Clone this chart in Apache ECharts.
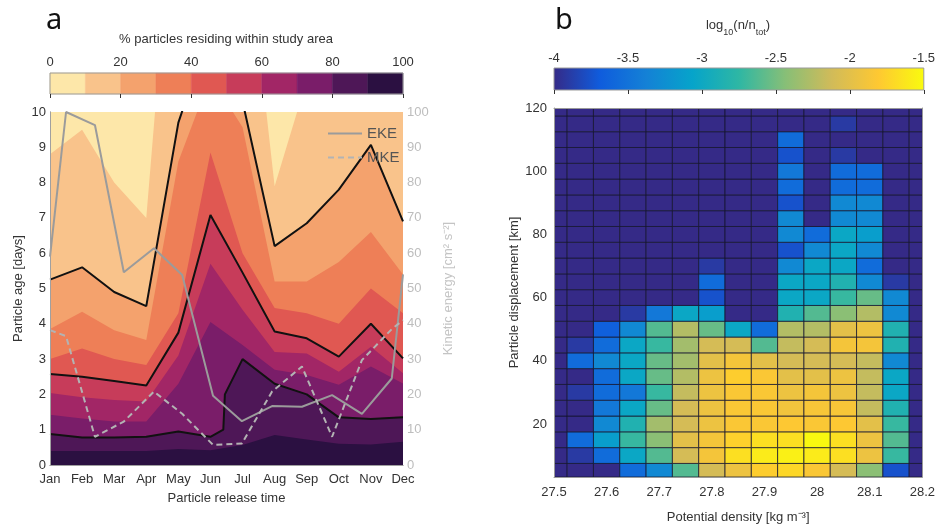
<!DOCTYPE html>
<html><head><meta charset="utf-8">
<script src="https://cdn.jsdelivr.net/npm/echarts@6/dist/echarts.min.js"></script>
<style>html,body{margin:0;padding:0;background:#fff}#c{width:938px;height:529px}</style>
</head><body><div id="c"></div>
<script>
// ---------- Panel a data ----------
const months = ['Jan','Feb','Mar','Apr','May','Jun','Jul','Aug','Sep','Oct','Nov','Dec'];
const pctLevels = [0,10,20,30,40,50,60,70,80,90,100];
const pctColors = ['#fde7a9','#f9c38b','#f4a26d','#ee7f57','#e05852','#c73c5a','#a22666','#7a1d69','#4e1757','#2b1041'];
const ageMax = 10;
// particle age (days) at which the % residing equals 10,20,...,90 for each release month
const age10 = [8.8, 9.5, 8.0, 7.0, 18, 16, 16, 7.9, 10.9, 12, 12, 12];
const age20 = [5.25, 5.6, 4.9, 4.5, 9.7, 12.4, 10.3, 6.2, 6.85, 7.8, 9.07, 6.9];
const age30 = [3.85, 4.34, 3.82, 3.54, 8.6, 11, 9.57, 5.2, 5.2, 5.75, 6.6, 5.4];
const age40 = [3.0, 3.3, 3.0, 2.83, 4.3, 8.85, 6.0, 4.45, 4.3, 4.0, 5.0, 4.3];
const age50 = [2.58, 2.5, 2.38, 2.25, 3.75, 7.08, 5.45, 3.78, 3.59, 3.07, 4.0, 3.02];
const age60 = [2.04, 1.92, 1.84, 1.8, 3.1, 5.7, 4.4, 3.2, 3.16, 2.64, 3.35, 2.6];
const age70 = [1.42, 1.32, 1.23, 1.23, 2.3, 4.05, 3.4, 2.7, 2.55, 2.27, 2.79, 2.31];
const age80 = [0.88, 0.78, 0.78, 0.8, 0.95, 0.8, 3.0, 2.3, 2.0, 1.35, 1.3, 1.35];
const age80Extra = [[5.4, 1.0], [5.45, 2.0]];
const age90 = [0.4, 0.4, 0.4, 0.4, 0.45, 0.42, 0.57, 0.85, 0.72, 0.6, 0.58, 0.66];
const contourLevels = [20, 50, 80];
// kinetic energy (cm2 s-2)
const keTimes = [0, 0.5, 1.4, 2.3, 3.24, 4.12, 5.08, 5.98, 6.92, 7.85, 8.79, 9.72, 10.65, 11];
const ekeValues = [59, 100, 96.3, 54.6, 61.4, 53.8, 19.6, 12.4, 16.7, 16.5, 19.8, 14.5, 24.5, 54];
const mkeValues = [38.2, 36.5, 8.0, 12.3, 20.8, 14.5, 5.7, 6.1, 20.8, 27.9, 8.0, 29.7, 38.5, 41];

// ---------- Panel b data ----------
const densityX = [27.5,27.55,27.6,27.65,27.7,27.75,27.8,27.85,27.9,27.95,28.0,28.05,28.1,28.15,28.2];
const densityY = [5,10,15,20,25,30,35,40,45,50,55,60,65,70,75,80,85,90,95,100,105,110,115,120];
const N = -4;
const densityRows = [
 [N,N,N,-3.55,-3.3,-2.62,-2.1,-1.93,-1.78,-1.72,-1.84,-2.1,-2.42,-3.75,N],
 [N,-3.9,-3.55,-3.02,-2.62,-2.1,-1.88,-1.67,-1.6,-1.57,-1.6,-1.67,-1.93,-2.72,N],
 [N,-3.55,-3.12,-2.72,-2.42,-2.0,-1.88,-1.76,-1.67,-1.67,-1.52,-1.67,-1.93,-2.62,N],
 [N,N,-3.3,-2.85,-2.32,-2.1,-1.93,-1.84,-1.84,-1.82,-1.84,-1.82,-2.0,-2.72,N],
 [N,N,-3.45,-3.02,-2.55,-2.1,-1.93,-1.84,-1.84,-1.9,-1.86,-1.86,-2.18,-2.85,N],
 [N,-3.9,-3.55,-3.45,-2.72,-2.18,-1.93,-1.84,-1.84,-1.93,-1.88,-1.93,-2.18,-3.02,N],
 [N,N,-3.55,-3.02,-2.55,-2.25,-1.93,-1.78,-1.84,-2.0,-2.0,-1.93,-2.18,-3.02,N],
 [N,-3.55,-3.3,-3.02,-2.55,-2.32,-2.0,-1.88,-2.0,-2.1,-2.1,-2.1,-2.18,-3.3,N],
 [N,-3.9,-3.55,-3.02,-2.72,-2.32,-2.1,-2.1,-2.62,-2.18,-2.1,-1.88,-1.88,-2.85,N],
 [N,N,-3.65,-3.3,-2.62,-2.25,-2.55,-3.02,-3.55,-2.25,-2.25,-2.0,-1.93,-2.85,N],
 [N,N,N,-3.9,-3.45,-3.02,-3.12,N,N,-2.85,-2.62,-2.42,-2.25,-3.3,N],
 [N,N,N,N,N,N,-3.75,N,N,-3.02,-3.02,-2.72,-2.55,-3.3,N],
 [N,N,N,N,N,N,-3.55,N,N,-3.02,-3.02,-2.85,-3.3,-3.9,N],
 [N,N,N,N,N,N,-3.9,N,N,-3.3,-3.02,-3.02,-3.55,N,N],
 [N,N,N,N,N,N,N,N,N,-3.75,-3.3,-3.02,-3.3,N,N],
 [N,N,N,N,N,N,N,N,N,-3.3,-3.55,-3.02,-3.12,N,N],
 [N,N,N,N,N,N,N,N,N,-3.3,N,-3.3,-3.3,N,N],
 [N,N,N,N,N,N,N,N,N,-3.75,N,-3.3,-3.3,N,N],
 [N,N,N,N,N,N,N,N,N,-3.55,N,-3.55,-3.55,N,N],
 [N,N,N,N,N,N,N,N,N,-3.45,N,-3.55,-3.55,N,N],
 [N,N,N,N,N,N,N,N,N,-3.75,N,-3.9,N,N,N],
 [N,N,N,N,N,N,N,N,N,-3.55,N,N,N,N,N],
 [N,N,N,N,N,N,N,N,N,N,N,-3.9,N,N,N],
 [N,N,N,N,N,N,N,N,N,N,N,N,N,N,N]
];
const densityTicks = [-4,-3.5,-3,-2.5,-2,-1.5];
const dispTicks = [20,40,60,80,100,120];
const parula = ['#352a87','#0f5cdd','#1481d6','#06a4ca','#2eb7a4','#87bf77','#d1bb59','#fec832','#f9fb0e'];

// ---------- build ----------
const FONT = 'Liberation Sans';
const chart = echarts.init(document.getElementById('c'), null, {renderer:'canvas'});
const toPairs = arr => arr.map((v,i)=>[i,v]);
const withExtra = (arr, extra) => toPairs(arr).concat(extra).sort((a,b)=>a[0]-b[0]);
const bounds = [age10, age20, age30, age40, age50, age60, age70, age80, age90];
const boundPairs = bounds.map((b,k)=> (k===7 ? withExtra(b, age80Extra) : toPairs(b)));

const series = [];
series.push({type:'line', xAxisIndex:0, yAxisIndex:0, data:[[0,ageMax],[months.length-1,ageMax]],
  symbol:'none', silent:true, lineStyle:{width:0}, areaStyle:{color:pctColors[0], opacity:1, origin:'start'}, z:1});
boundPairs.forEach((p,k)=>{
  series.push({type:'line', xAxisIndex:0, yAxisIndex:0, data:p, symbol:'none', silent:true,
    lineStyle:{width:0}, areaStyle:{color:pctColors[k+1], opacity:1, origin:'start'}, z:1});
});
contourLevels.forEach(lv=>{
  const k = lv/10 - 1;
  series.push({type:'line', xAxisIndex:0, yAxisIndex:0, data:boundPairs[k], symbol:'none', silent:true,
    lineStyle:{width:2, color:'#111'}, z:3});
});
series.push({name:'EKE', type:'line', xAxisIndex:0, yAxisIndex:1, data:keTimes.map((t,i)=>[t,ekeValues[i]]),
  symbol:'none', lineStyle:{width:2, color:'#9b9b9b'}, itemStyle:{color:'#9b9b9b'}, z:4});
series.push({name:'MKE', type:'line', xAxisIndex:0, yAxisIndex:1, data:keTimes.map((t,i)=>[t,mkeValues[i]]),
  symbol:'none', lineStyle:{width:2, color:'#b3b3b3', type:[6,4]}, itemStyle:{color:'#b3b3b3'}, z:4});
// colorbar a
const cbaData = pctColors.map((c,i)=>[pctLevels[i], pctLevels[i+1], i]);
series.push({type:'custom', xAxisIndex:1, yAxisIndex:2, silent:true, data:cbaData,
  renderItem:(params, api)=>{
    const p0 = api.coord([api.value(0),1]), p1 = api.coord([api.value(1),0]);
    return {type:'rect', shape:{x:p0[0], y:p0[1], width:p1[0]-p0[0], height:p1[1]-p0[1]},
      style:{fill:pctColors[api.value(2)], stroke:pctColors[api.value(2)], lineWidth:0.5}};
  }});
series.push({type:'custom', xAxisIndex:1, yAxisIndex:2, silent:true, data:[[pctLevels[0], pctLevels[pctLevels.length-1]]], z:5,
  renderItem:(params, api)=>{
    const p0 = api.coord([api.value(0),1]), p1 = api.coord([api.value(1),0]);
    return {type:'rect', shape:{x:p0[0], y:p0[1], width:p1[0]-p0[0], height:p1[1]-p0[1]},
      style:{fill:'none', stroke:'#9a9a9a', lineWidth:1}};
  }});
// heatmap
const heatData = [];
densityY.forEach((y,r)=> densityX.forEach((x,c)=> heatData.push([x, y, densityRows[r][c]])));
const dx = densityX[1]-densityX[0], dy = densityY[1]-densityY[0];
series.push({type:'custom', xAxisIndex:2, yAxisIndex:3, data:heatData, silent:true, clip:true,
  encode:{x:0, y:1}, dimensions:['x','y','v'],
  renderItem:(params, api)=>{
    const x = api.value(0), y = api.value(1);
    const p0 = api.coord([x-dx/2, y+dy/2]), p1 = api.coord([x+dx/2, y-dy/2]);
    const cs = params.coordSys;
    const rect = echarts.graphic.clipRectByRect({x:p0[0], y:p0[1], width:p1[0]-p0[0], height:p1[1]-p0[1]},
      {x:cs.x, y:cs.y, width:cs.width, height:cs.height});
    if (!rect) return;
    return {type:'rect', shape:rect, style:{fill:api.visual('color'), stroke:'rgba(20,20,45,0.75)', lineWidth:1}};
  }});
const heatIndex = series.length-1;
// colorbar b
series.push({type:'custom', xAxisIndex:3, yAxisIndex:4, silent:true, data:[[densityTicks[0], densityTicks[densityTicks.length-1]]],
  renderItem:(params, api)=>{
    const p0 = api.coord([api.value(0),1]), p1 = api.coord([api.value(1),0]);
    const stops = parula.map((c,i)=>({offset:i/(parula.length-1), color:c}));
    return {type:'rect', shape:{x:p0[0], y:p0[1], width:p1[0]-p0[0], height:p1[1]-p0[1]},
      style:{fill:new echarts.graphic.LinearGradient(0,0,1,0,stops), stroke:'#9a9a9a', lineWidth:1}};
  }});

const lbl = {fontFamily:FONT, fontSize:13, color:'#333'};
const option = {
  animation:false,
  backgroundColor:'#fff',
  textStyle:{fontFamily:FONT},
  grid:[
    {left:50, top:112, width:353, height:353},
    {left:50, top:73, width:353, height:21},
    {left:554, top:108, width:370, height:370},
    {left:554, top:68, width:370, height:22}
  ],
  xAxis:[
    {gridIndex:0, type:'value', min:0, max:11, interval:1, z:10,
     axisLine:{show:true, lineStyle:{color:'#a0a0a0'}}, axisTick:{show:false}, splitLine:{show:false},
     axisLabel:{...lbl, margin:8, formatter:v=>months[v]},
     name:'Particle release time', nameLocation:'middle', nameGap:27, nameTextStyle:{...lbl}},
    {gridIndex:1, type:'value', min:0, max:100, interval:20, position:'top', z:10,
     axisLine:{show:false}, axisTick:{show:true, inside:true, length:4, lineStyle:{color:'#333'}}, splitLine:{show:false},
     axisLabel:{...lbl, margin:4}},
    {gridIndex:2, type:'value', min:27.5, max:28.2, interval:0.1, z:10,
     axisLine:{show:true, lineStyle:{color:'#999'}}, axisTick:{show:false}, splitLine:{show:false},
     axisLabel:{...lbl, margin:9},
     name:'Potential density [kg m⁻³]', nameLocation:'middle', nameGap:34, nameTextStyle:{...lbl}},
    {gridIndex:3, type:'value', min:-4, max:-1.5, interval:0.5, position:'top', z:10,
     axisLine:{show:false}, axisTick:{show:true, inside:true, length:4, lineStyle:{color:'#333'}}, splitLine:{show:false},
     axisLabel:{...lbl, margin:3}},
    {gridIndex:0, type:'value', min:0, max:11, position:'top', z:10,
     axisLine:{show:true, lineStyle:{color:'#a0a0a0'}}, axisTick:{show:false}, axisLabel:{show:false}, splitLine:{show:false}},
    {gridIndex:2, type:'value', min:27.5, max:28.2, position:'top', z:10,
     axisLine:{show:true, lineStyle:{color:'#999'}}, axisTick:{show:false}, axisLabel:{show:false}, splitLine:{show:false}}
  ],
  yAxis:[
    {gridIndex:0, type:'value', min:0, max:ageMax, interval:1, z:10,
     axisLine:{show:true, lineStyle:{color:'#a0a0a0'}}, axisTick:{show:false}, splitLine:{show:false},
     axisLabel:{...lbl, margin:4},
     name:'Particle age [days]', nameLocation:'middle', nameGap:25, nameTextStyle:{...lbl}},
    {gridIndex:0, type:'value', min:0, max:100, interval:10, position:'right', z:10,
     axisLine:{show:true, lineStyle:{color:'#a0a0a0'}}, axisTick:{show:false}, splitLine:{show:false},
     axisLabel:{...lbl, color:'#bdbdbd', margin:4},
     name:'Kinetic energy [cm² s⁻²]', nameLocation:'middle', nameGap:39, nameRotate:90,
     nameTextStyle:{...lbl, color:'#c4c4c4'}},
    {gridIndex:1, type:'value', min:0, max:1, show:false},
    {gridIndex:2, type:'value', min:3.2, max:120, z:10,
     axisLine:{show:true, lineStyle:{color:'#999'}}, axisTick:{show:false}, splitLine:{show:false},
     axisLabel:{...lbl, margin:7, customValues:dispTicks},
     name:'Particle displacement [km]', nameLocation:'middle', nameGap:33, nameTextStyle:{...lbl}},
    {gridIndex:3, type:'value', min:0, max:1, show:false},
    {gridIndex:2, type:'value', min:3.2, max:120, position:'right', z:10,
     axisLine:{show:true, lineStyle:{color:'#999'}}, axisTick:{show:false}, axisLabel:{show:false}, splitLine:{show:false}}
  ],
  visualMap:[{type:'continuous', show:false, min:densityTicks[0], max:densityTicks[densityTicks.length-1],
    dimension:2, seriesIndex:heatIndex, inRange:{color:parula}}],
  legend:{data:['EKE','MKE'], orient:'vertical', left:322, top:121, itemWidth:34, itemHeight:12, itemGap:9,
    itemStyle:{opacity:0}, textStyle:{fontFamily:FONT, fontSize:15, color:'#555'}, selectedMode:false},
  graphic:[
    {type:'text', x:46, y:6, style:{text:'a', fontFamily:'Noto Sans', fontSize:29, fill:'#111'}},
    {type:'text', x:555, y:6, style:{text:'b', fontFamily:'Noto Sans', fontSize:29, fill:'#111'}},
    {type:'text', x:226, y:39, style:{text:'% particles residing within study area', fontFamily:FONT, fontSize:13, fill:'#333', align:'center', verticalAlign:'middle'}},
    {type:'text', x:738, y:28, style:{text:'{n|log}{s|10}{n|(n/n}{s|tot}{n|)}', align:'center', verticalAlign:'middle', fontFamily:FONT, fill:'#333',
      rich:{n:{fontFamily:FONT, fontSize:13, fill:'#333', lineHeight:18, verticalAlign:'top'}, s:{fontFamily:FONT, fontSize:9, fill:'#333', lineHeight:18, verticalAlign:'bottom', padding:[8,0,0,0]}}}}
  ],
  series
};
chart.setOption(option);
</script></body></html>
